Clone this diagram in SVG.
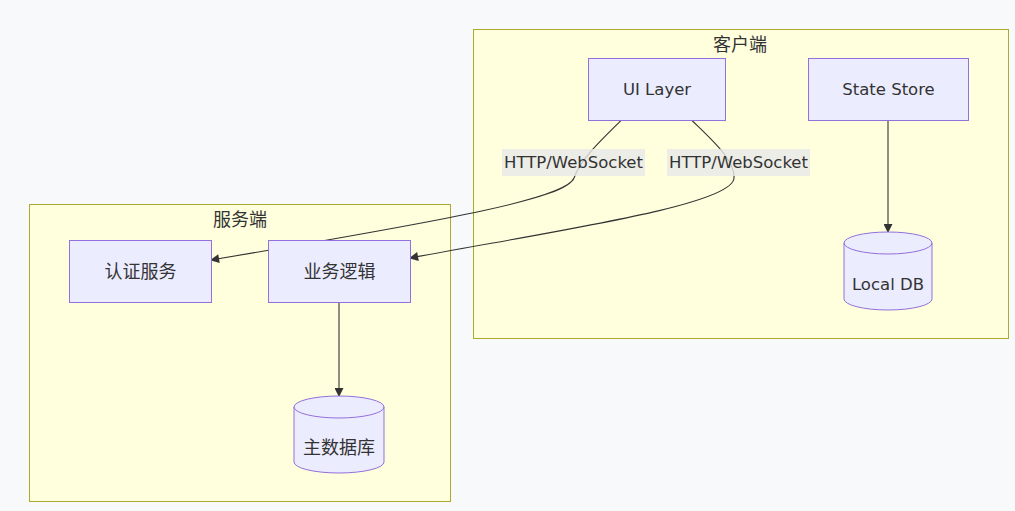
<svg xmlns="http://www.w3.org/2000/svg" width="1015" height="511" viewBox="0 0 1015 511">
<style>
.bg{fill:#f8f9fb}
.cluster{fill:#ffffde;stroke:#aaaa33;stroke-width:1}
.node{fill:#ececff;stroke:#9370db;stroke-width:1}
.t{font-family:"DejaVu Sans","Noto Sans CJK SC",sans-serif;font-size:16.5px;fill:#333333;text-anchor:middle}
.ct{font-family:"Noto Sans CJK SC",sans-serif;font-size:18px;fill:#333333;text-anchor:middle}
.edge{fill:none;stroke:#333333;stroke-width:1.1}
.lbl{fill:#e8e8e8;fill-opacity:0.8}
</style>
<defs>
<marker id="arrow" viewBox="0 0 10 10" refX="9" refY="5" markerWidth="10" markerHeight="9" markerUnits="userSpaceOnUse" orient="auto">
<path d="M0,0 L10,5 L0,10 z" fill="#333333"/>
</marker>
</defs>
<rect class="bg" x="0" y="0" width="1015" height="511"/>
<g id="cluster-client">
<rect class="cluster" x="473.5" y="29.5" width="535" height="309"/>
<text class="ct" x="740" y="51">客户端</text>
</g>
<g id="cluster-server">
<rect class="cluster" x="29.5" y="204.5" width="421" height="297"/>
<text class="ct" x="240" y="226">服务端</text>
</g>
<g id="edges">
<path class="edge" d="M621.5,120 C600,141 580,160 574,178 C566,198 460,218 211,260" marker-end="url(#arrow)"/>
<path class="edge" d="M691.5,120 C712,140 735,160 734,178 C733,205 560,230 410,258" marker-end="url(#arrow)"/>
<path class="edge" d="M888,120 L888,232" marker-end="url(#arrow)"/>
<path class="edge" d="M339,302 L339,396" marker-end="url(#arrow)"/>
</g>
<g id="label-1">
<rect class="lbl" x="502" y="149" width="143" height="27"/>
<text class="t" x="573.5" y="168">HTTP/WebSocket</text>
</g>
<g id="label-2">
<rect class="lbl" x="667" y="149" width="143" height="27"/>
<text class="t" x="738.5" y="168">HTTP/WebSocket</text>
</g>
<g id="node-ui">
<rect class="node" x="588.5" y="58.5" width="137" height="62"/>
<text class="t" x="657" y="95">UI Layer</text>
</g>
<g id="node-state">
<rect class="node" x="808.5" y="58.5" width="160" height="62"/>
<text class="t" x="888.5" y="95">State Store</text>
</g>
<g id="node-localdb">
<path class="node" d="M844,243 A44,11 0 0 1 932,243 L932,299 A44,11 0 0 1 844,299 Z"/>
<path fill="none" stroke="#9370db" d="M844,243 A44,11 0 0 0 932,243"/>
<text class="t" x="888" y="290">Local DB</text>
</g>
<g id="node-auth">
<rect class="node" x="69.5" y="240.5" width="142" height="62"/>
<text class="ct" x="140.5" y="278">认证服务</text>
</g>
<g id="node-biz">
<rect class="node" x="268.5" y="240.5" width="142" height="62"/>
<text class="ct" x="339.5" y="278">业务逻辑</text>
</g>
<g id="node-maindb">
<path class="node" d="M294,407 A45,11 0 0 1 384,407 L384,462 A45,11 0 0 1 294,462 Z"/>
<path fill="none" stroke="#9370db" d="M294,407 A45,11 0 0 0 384,407"/>
<text class="ct" x="339" y="454">主数据库</text>
</g>
</svg>
